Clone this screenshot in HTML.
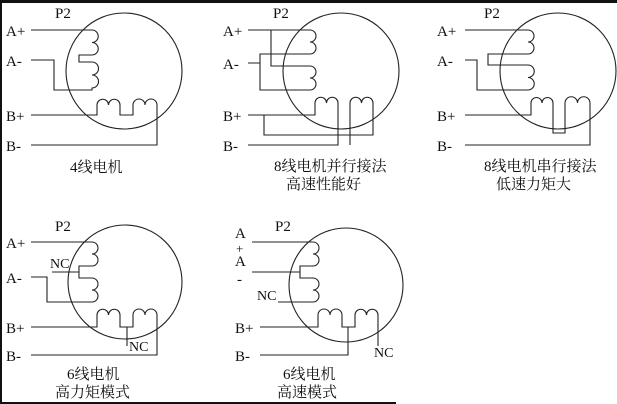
<!DOCTYPE html>
<html><head><meta charset="utf-8"><style>
html,body{margin:0;padding:0;background:#fff;}
svg{display:block;}
text{font-family:"Liberation Serif","Noto Serif CJK SC",serif;fill:#111;}
.l{font-size:15px;}
.c{font-size:15px;}
</style></head><body>
<svg width="617" height="404" viewBox="0 0 617 404" xmlns="http://www.w3.org/2000/svg">
<rect x="0" y="0" width="617" height="3" fill="#111"/>
<rect x="0" y="0" width="2" height="404" fill="#111"/>
<rect x="0" y="402" width="396" height="2" fill="#111"/>
<g fill="none" stroke="#222" stroke-width="1.1">
<!-- Diagram 1 -->
<circle cx="124" cy="71" r="58"/>
<path d="M31 30 H92 a6.25 6.25 0 0 1 0 12.5 a6.25 6.25 0 0 1 0 12.5 H79 V62 H92 a6.5 6.5 0 0 1 0 13 a6.5 6.5 0 0 1 0 13 V90 H54 V60 H31"/>
<path d="M31 115 H97 V105 a5.75 5.75 0 0 1 11.5 0 a5.75 5.75 0 0 1 11.5 0 V115 H133 V105 a6 6 0 0 1 12 0 a6 6 0 0 1 12 0 V145 H31"/>
<!-- Diagram 2 -->
<circle cx="341" cy="71" r="58"/>
<path d="M248 30 H310 a6 6 0 0 1 0 12 a6 6 0 0 1 0 12 H260 V90 H310 V90 M310 66 a6 6 0 0 1 0 12 a6 6 0 0 1 0 12 M271 30 V66 H310 M248 63 H260"/>
<path d="M248 115 H315 V103 a5.75 5.75 0 0 1 11.5 0 a5.75 5.75 0 0 1 11.5 0 V145 H248 M264 115 V135 H373 V103 a5.75 5.75 0 0 0 -11.5 0 a5.75 5.75 0 0 0 -11.5 0 V145"/>
<!-- Diagram 3 -->
<circle cx="558" cy="71" r="58"/>
<path d="M465 30 H528 a6 6 0 0 1 0 12 a6 6 0 0 1 0 12 H488 V65 H528 a6 6 0 0 1 0 12.5 a6 6 0 0 1 0 12.5 H477 V60 H465"/>
<path d="M465 115 H531 V103 a5.5 5.5 0 0 1 11 0 a5.5 5.5 0 0 1 11 0 V133 H565 V103 a6.25 6.25 0 0 1 12.5 0 a6.25 6.25 0 0 1 12.5 0 V145 H465"/>
<!-- Diagram 4 -->
<circle cx="125" cy="282" r="57"/>
<path d="M31 242 H92 a6 6 0 0 1 0 12 a6 6 0 0 1 0 12 H79 V278 H92 a6 6 0 0 1 0 12 a6 6 0 0 1 0 12 H47 V277 H31 M52 272 H79"/>
<path d="M31 327 H97 V315 a5.75 5.75 0 0 1 11.5 0 a5.75 5.75 0 0 1 11.5 0 V327 H133 V315 a6 6 0 0 1 12 0 a6 6 0 0 1 12 0 V355 H31 M127 327 V346"/>
<!-- Diagram 5 -->
<circle cx="346" cy="285" r="57"/>
<path d="M252 242 H313 a6 6 0 0 1 0 12 a6 6 0 0 1 0 12 H300 V278 H313 a6 6 0 0 1 0 12 a6 6 0 0 1 0 12 H278 M252 272 H300"/>
<path d="M260 327 H318 V315 a6 6 0 0 1 12 0 a6 6 0 0 1 12 0 V327 H355 V315 a5.75 5.75 0 0 1 11.5 0 a5.75 5.75 0 0 1 11.5 0 V346 M348 327 V355 H260"/>
</g>
<g class="l">
<text x="55" y="18">P2</text>
<text x="6" y="36">A+</text>
<text x="6" y="66">A-</text>
<text x="6" y="121">B+</text>
<text x="6" y="151">B-</text>
<text x="70" y="172" class="c">4线电机</text>

<text x="273" y="18">P2</text>
<text x="223" y="36">A+</text>
<text x="223" y="69">A-</text>
<text x="223" y="121">B+</text>
<text x="223" y="151">B-</text>
<text x="274" y="171" class="c">8线电机并行接法</text>
<text x="286" y="189" class="c">高速性能好</text>

<text x="484" y="18">P2</text>
<text x="437" y="36">A+</text>
<text x="437" y="66">A-</text>
<text x="437" y="121">B+</text>
<text x="437" y="151">B-</text>
<text x="484" y="171" class="c">8线电机串行接法</text>
<text x="496" y="189" class="c">低速力矩大</text>

<text x="55" y="231">P2</text>
<text x="6" y="248">A+</text>
<text x="6" y="283">A-</text>
<text x="50" y="268" style="font-size:14px">NC</text>
<text x="6" y="333">B+</text>
<text x="6" y="361">B-</text>
<text x="129" y="351" style="font-size:14px">NC</text>
<text x="67" y="379" class="c">6线电机</text>
<text x="55" y="397" class="c">高力矩模式</text>

<text x="275" y="231">P2</text>
<text x="235" y="238">A</text>
<text x="236" y="253" style="font-size:13px">+</text>
<text x="235" y="266">A</text>
<text x="237" y="284">-</text>
<text x="257" y="300" style="font-size:14px">NC</text>
<text x="235" y="333">B+</text>
<text x="235" y="361">B-</text>
<text x="374" y="357" style="font-size:14px">NC</text>
<text x="283" y="379" class="c">6线电机</text>
<text x="277" y="397" class="c">高速模式</text>
</g>
</svg>
</body></html>
